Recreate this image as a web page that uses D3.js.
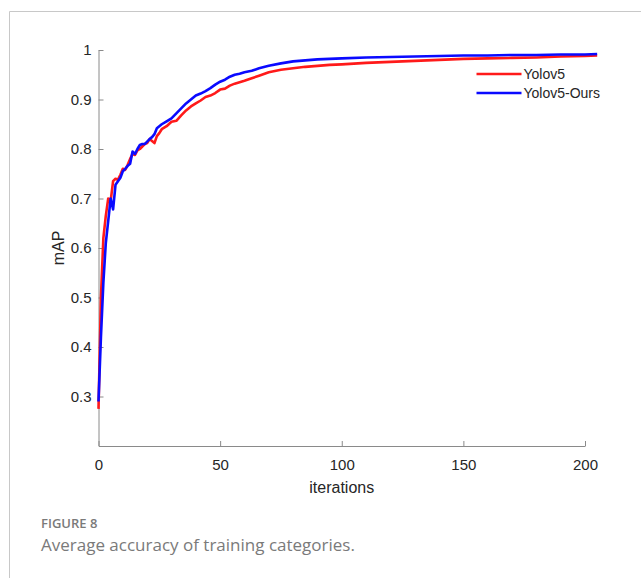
<!DOCTYPE html>
<html>
<head>
<meta charset="utf-8">
<script src="https://cdn.jsdelivr.net/npm/d3@7"></script>
<style>
  body { margin: 0; background: #fff; }
  svg { display: block; }
</style>
</head>
<body>
<div id="chart"></div>
<script>
// training iterations at which mAP was read
var iterations = [0, 1, 2, 3, 4, 5, 6, 7, 8, 9, 10, 11, 12, 13, 14, 15, 16, 17, 18, 19, 20,
  21, 22, 23, 24, 25, 26, 28, 30, 32, 34, 36, 38, 40, 42, 44, 46, 48, 50, 52, 54, 56, 58, 60,
  63, 66, 70, 75, 80, 85, 90, 95, 100, 110, 120, 130, 140, 150, 160, 170, 180, 190, 200, 205];

var yolov5 = [0.275, 0.50, 0.62, 0.665, 0.70, 0.695, 0.735, 0.74, 0.738, 0.748, 0.76,
  0.758, 0.768, 0.78, 0.79, 0.788, 0.797, 0.80, 0.805, 0.81, 0.812,
  0.82, 0.816, 0.812, 0.826, 0.832, 0.84, 0.846, 0.855, 0.857, 0.868, 0.878, 0.886, 0.892,
  0.898, 0.905, 0.908, 0.913, 0.92, 0.922, 0.928, 0.932, 0.935, 0.938,
  0.943, 0.948, 0.955, 0.96, 0.963, 0.966, 0.968, 0.970, 0.971, 0.974, 0.976, 0.978,
  0.980, 0.982, 0.983, 0.984, 0.985, 0.987, 0.988, 0.989];

var yolov5Ours = [0.29, 0.42, 0.53, 0.61, 0.655, 0.70, 0.678, 0.728, 0.735, 0.742, 0.755,
  0.76, 0.766, 0.77, 0.795, 0.79, 0.80, 0.808, 0.81, 0.81, 0.815,
  0.82, 0.824, 0.83, 0.842, 0.846, 0.85, 0.856, 0.862, 0.872, 0.882, 0.892, 0.90, 0.908,
  0.912, 0.917, 0.923, 0.93, 0.936, 0.94, 0.946, 0.95, 0.952, 0.955,
  0.958, 0.963, 0.968, 0.973, 0.977, 0.979, 0.981, 0.982, 0.983, 0.985, 0.986, 0.987,
  0.988, 0.989, 0.989, 0.990, 0.990, 0.991, 0.991, 0.992];

var seriesNames = ["Yolov5", "Yolov5-Ours"];
var xTicks = [0, 50, 100, 150, 200];
var yTicks = [0.3, 0.4, 0.5, 0.6, 0.7, 0.8, 0.9, 1];

var W = 641, H = 578;
var margin = { top: 50, left: 98.5 },
  width = 585 - margin.left,
  height = 446 - margin.top;

var svg = d3.select("#chart").append("svg")
  .attr("width", W)
  .attr("height", H);

// page frame
svg.append("path")
  .attr("d", "M9.5," + H + "V11.5H" + W)
  .attr("fill", "none")
  .attr("stroke", "#c8c8c8");

var g = svg.append("g")
  .attr("transform", "translate(" + margin.left + "," + margin.top + ")");

var x = d3.scaleLinear().domain([0, 200]).range([0, width]);
var y = d3.scaleLinear().domain([0.2, 1]).range([height, 0]);

// axes (ticks pointing inward)
var xAxis = g.append("g")
  .attr("transform", "translate(0," + height + ")")
  .call(d3.axisBottom(x).tickValues(xTicks).tickSizeInner(-5).tickSizeOuter(0).tickPadding(13));

var yAxis = g.append("g")
  .call(d3.axisLeft(y).tickValues(yTicks).tickSizeInner(-5).tickSizeOuter(0).tickPadding(7)
    .tickFormat(function (d) { return d === 1 ? "1" : d3.format(".1f")(d); }));

[xAxis, yAxis].forEach(function (a) {
  a.select(".domain").attr("stroke", "#8a8a8a");
  a.selectAll(".tick line").attr("stroke", "#8a8a8a");
  a.selectAll(".tick text")
    .attr("fill", "#262626")
    .style("font-family", "'Liberation Sans', Arial, sans-serif")
    .style("font-size", "15px");
});

// axis labels
g.append("text")
  .attr("x", x(100))
  .attr("y", height + 47)
  .attr("text-anchor", "middle")
  .attr("fill", "#262626")
  .style("font-family", "'Liberation Sans', Arial, sans-serif")
  .style("font-size", "16px")
  .text("iterations");

g.append("text")
  .attr("transform", "translate(-35," + y(0.6) + ") rotate(-90)")
  .attr("text-anchor", "middle")
  .attr("fill", "#262626")
  .style("font-family", "'Liberation Sans', Arial, sans-serif")
  .style("font-size", "16px")
  .text("mAP");

// lines
var colors = ["#ff1a1a", "#0a0aff"];
var series = [yolov5, yolov5Ours];

var line = d3.line()
  .x(function (d) { return x(d[0]); })
  .y(function (d) { return y(d[1]); });

series.forEach(function (s, k) {
  g.append("path")
    .datum(iterations.map(function (it, i) { return [it, s[i]]; }))
    .attr("fill", "none")
    .attr("stroke", colors[k])
    .attr("stroke-width", 2.6)
    .attr("stroke-linejoin", "round")
    .attr("d", line);
});

// legend
var legend = g.append("g")
  .attr("transform", "translate(378,24)");

seriesNames.forEach(function (name, k) {
  var row = legend.append("g").attr("transform", "translate(0," + (k * 19) + ")");
  row.append("line")
    .attr("x1", 0).attr("x2", 45)
    .attr("stroke", colors[k])
    .attr("stroke-width", 2.6);
  row.append("text")
    .attr("x", 47)
    .attr("dy", "0.35em")
    .attr("fill", "#262626")
    .style("font-family", "'Liberation Sans', Arial, sans-serif")
    .style("font-size", "14px")
    .text(name);
});

// caption
svg.append("text")
  .attr("x", 41)
  .attr("y", 528)
  .attr("fill", "#7a7a7a")
  .style("font-family", "'Open Sans', sans-serif")
  .style("font-size", "13px")
  .style("font-weight", 600)
  .text("FIGURE 8");

svg.append("text")
  .attr("x", 41)
  .attr("y", 551)
  .attr("fill", "#7a7a7a")
  .style("font-family", "'Open Sans', sans-serif")
  .style("font-size", "17px")
  .text("Average accuracy of training categories.");
</script>
</body>
</html>
